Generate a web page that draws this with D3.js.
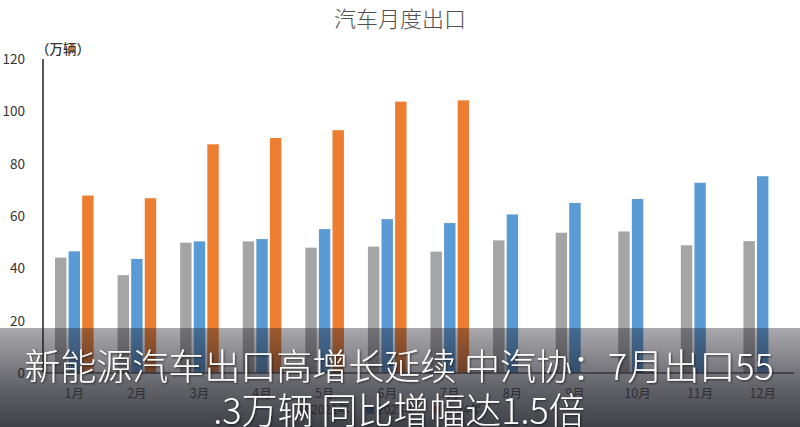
<!DOCTYPE html>
<html>
<head>
<meta charset="utf-8">
<script src="https://cdn.jsdelivr.net/npm/d3@7"></script>
<style>
  body { margin: 0; background: #fff; }
  svg { display: block; font-family: "Noto Sans CJK SC", "Noto Sans", sans-serif; }
</style>
</head>
<body>
<div class="container"></div>
<script>
const months = ["1月", "2月", "3月", "4月", "5月", "6月", "7月", "8月", "9月", "10月", "11月", "12月"];
const seriesNames = ["2022年", "2023年", "2024年"];
const seriesGray = [44.1, 37.4, 49.8, 50.3, 47.9, 48.3, 46.4, 50.7, 53.6, 54.1, 48.8, 50.4];
const seriesBlue = [46.5, 43.6, 50.3, 51.2, 55.0, 58.8, 57.3, 60.6, 65.0, 66.5, 72.7, 75.2];
const seriesOrange = [67.8, 66.8, 87.4, 89.8, 92.8, 103.7, 104.2];
const yTicks = [0, 20, 40, 60, 80, 100, 120];
const colors = ["#a5a5a5", "#5b9bd5", "#ed7d31"];

const W = 800, H = 427;
const plot = { left: 43, right: 794, top: 59, bottom: 373 };

const svg = d3.select(".container")
  .append("svg")
  .attr("width", W)
  .attr("height", H);

const x0 = d3.scaleBand().domain(months).range([plot.left, plot.right]);
const x1 = d3.scaleBand().domain([0, 1, 2])
  .range([12, x0.bandwidth() - 12])
  .paddingInner(0.16);
const y = d3.scaleLinear().domain([0, 120]).range([plot.bottom, plot.top]);

// title
svg.append("text")
  .attr("x", 400)
  .attr("y", 27)
  .attr("text-anchor", "middle")
  .attr("font-size", 22)
  .attr("font-weight", 300)
  .attr("fill", "#505050")
  .text("汽车月度出口");

// unit label
svg.append("text")
  .attr("x", 36)
  .attr("y", 54)
  .attr("font-size", 13.5)
  .attr("font-weight", 500)
  .attr("fill", "#333")
  .text("（万辆）");

// y axis labels
svg.append("g")
  .selectAll("text")
  .data(yTicks)
  .enter()
  .append("text")
  .attr("x", 25)
  .attr("y", d => y(d) + 5)
  .attr("text-anchor", "end")
  .attr("font-size", 13.5)
  .attr("fill", "#333")
  .text(d => d);

// bars
const allSeries = [seriesGray, seriesBlue, seriesOrange];
allSeries.forEach((vals, si) => {
  svg.append("g")
    .selectAll("rect")
    .data(vals)
    .enter()
    .append("rect")
    .attr("x", (d, i) => x0(months[i]) + x1(si))
    .attr("y", d => y(d))
    .attr("width", x1.bandwidth())
    .attr("height", d => y(0) - y(d))
    .attr("fill", colors[si]);
});

// axis lines
svg.append("line")
  .attr("x1", plot.left).attr("x2", plot.left)
  .attr("y1", plot.top).attr("y2", plot.bottom)
  .attr("stroke", "#595959").attr("stroke-width", 2);
svg.append("line")
  .attr("x1", plot.left).attr("x2", plot.right)
  .attr("y1", plot.bottom).attr("y2", plot.bottom)
  .attr("stroke", "#595959").attr("stroke-width", 1.5);

// month labels
svg.append("g")
  .selectAll("text")
  .data(months)
  .enter()
  .append("text")
  .attr("x", d => x0(d) + x0.bandwidth() / 2)
  .attr("y", 398)
  .attr("text-anchor", "middle")
  .attr("font-size", 12.5)
  .attr("fill", "#595959")
  .text(d => d);

// legend (mostly covered by the caption band)
const legend = svg.append("g").attr("transform", "translate(300,414)");
seriesNames.forEach((name, i) => {
  const g = legend.append("g").attr("transform", `translate(${i * 66},0)`);
  g.append("rect").attr("x", 0).attr("y", -8).attr("width", 8).attr("height", 8).attr("fill", colors[i]);
  g.append("text").attr("x", 11).attr("y", 0).attr("font-size", 12).attr("fill", "#595959").text(name);
});

// caption band
const defs = svg.append("defs");
const grad = defs.append("linearGradient")
  .attr("id", "band").attr("x1", 0).attr("x2", 0).attr("y1", 0).attr("y2", 1);
grad.append("stop").attr("offset", "0%").attr("stop-color", "#1e1e28").attr("stop-opacity", 0.38);
grad.append("stop").attr("offset", "60%").attr("stop-color", "#1e1e28").attr("stop-opacity", 0.7);
grad.append("stop").attr("offset", "100%").attr("stop-color", "#1e1e28").attr("stop-opacity", 0.85);
const shadow = defs.append("filter").attr("id", "shadow");
shadow.append("feDropShadow").attr("dx", 1).attr("dy", 1).attr("stdDeviation", 1)
  .attr("flood-color", "#000").attr("flood-opacity", 0.6);

svg.append("rect")
  .attr("x", 0).attr("y", 328)
  .attr("width", W).attr("height", H - 328)
  .attr("fill", "url(#band)");

const captionLines = ["新能源汽车出口高增长延续 中汽协：7月出口55", ".3万辆 同比增幅达1.5倍"];
svg.append("g")
  .attr("filter", "url(#shadow)")
  .selectAll("text")
  .data(captionLines)
  .enter()
  .append("text")
  .attr("x", 399)
  .attr("y", (d, i) => 380 + i * 44)
  .attr("text-anchor", "middle")
  .attr("font-size", 36)
  .attr("font-weight", 300)
  .attr("fill", "#fff")
  .text(d => d);
</script>
</body>
</html>
